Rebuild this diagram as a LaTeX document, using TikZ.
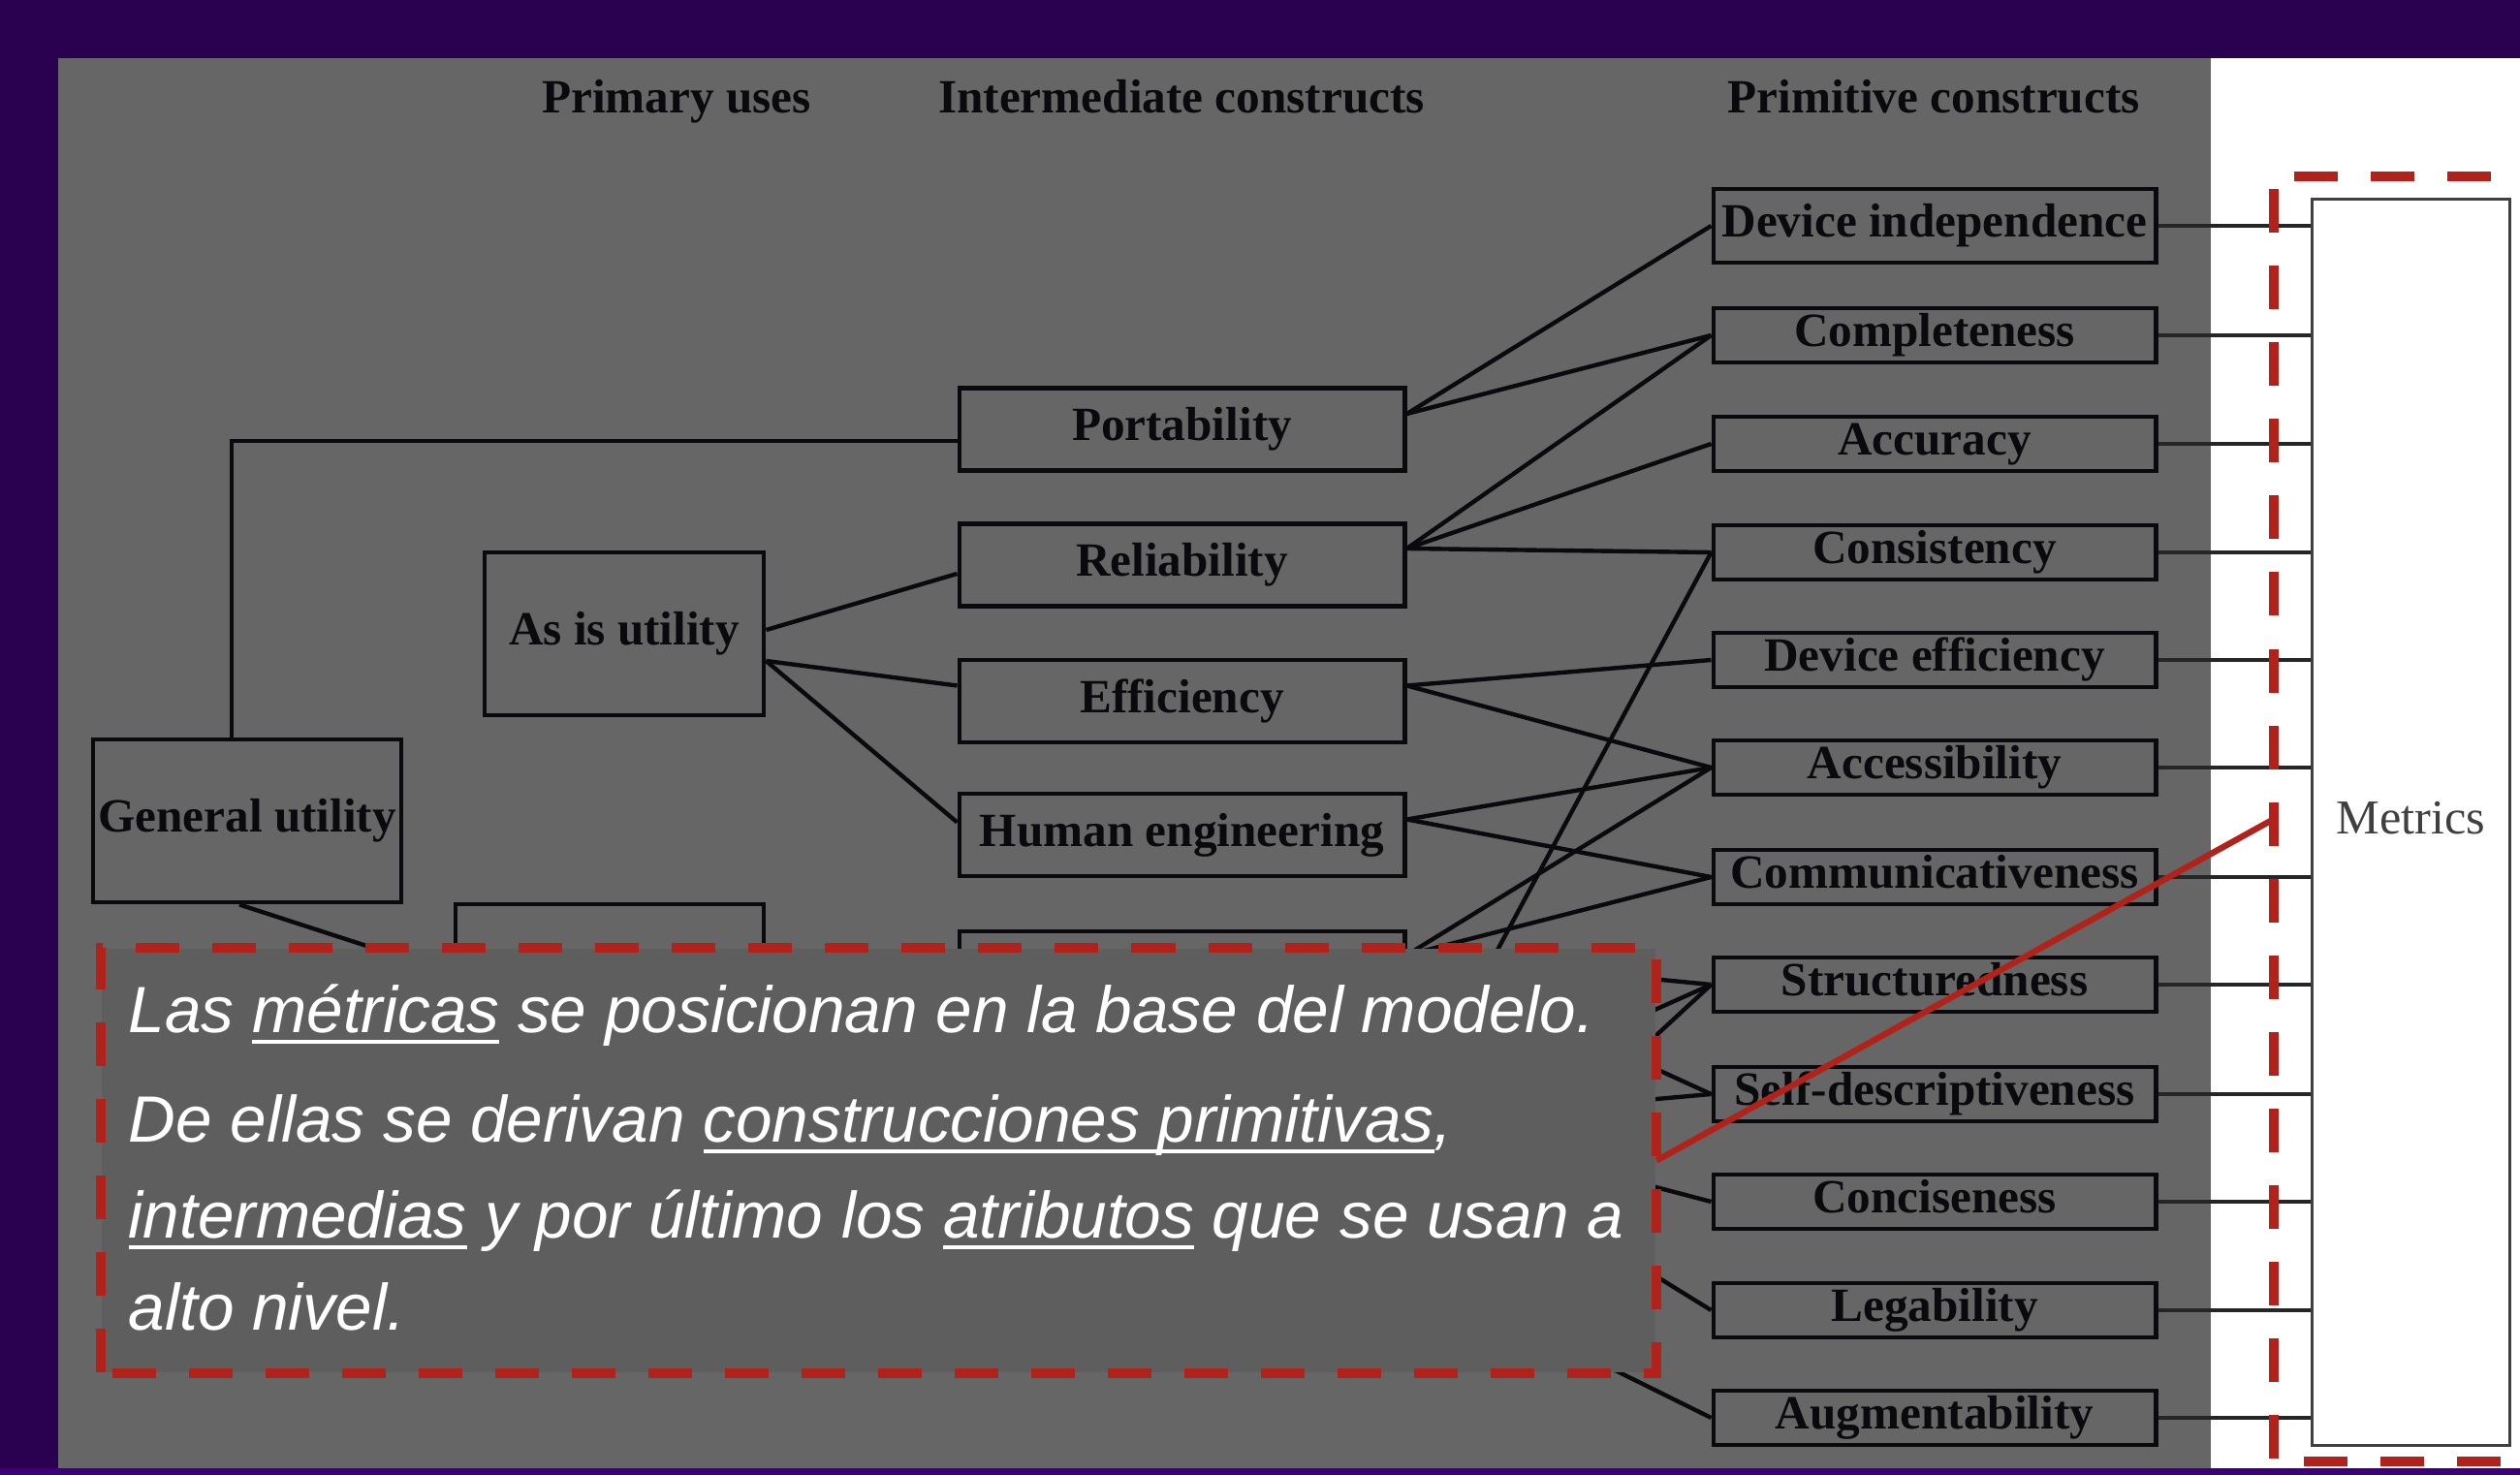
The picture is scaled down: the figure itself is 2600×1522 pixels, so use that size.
\documentclass[tikz,border=0pt]{standalone}
\usepackage{fontspec}
\setmainfont{Liberation Serif}
\newfontfamily\callfont{Liberation Sans}
\usetikzlibrary{calc}
\definecolor{bgpurple}{HTML}{2A0050}
\definecolor{bgpurplelow}{HTML}{3D007A}
\definecolor{panelgray}{HTML}{666666}
\definecolor{callgray}{HTML}{5E5E5E}
\definecolor{redc}{HTML}{B0221A}
\definecolor{inkc}{HTML}{0A0A0E}
\newcommand\myunder[1]{\setbox0\hbox{#1}\rlap{\rule[-3.3pt]{\wd0}{1.1pt}}\box0\relax}
\begin{document}
\begin{tikzpicture}[x=0.01cm, y=-0.01cm,
  box/.style={draw=inkc, line width=1.35pt, rectangle, inner sep=0pt, text=inkc,
    font=\fontsize{14}{16}\selectfont\bfseries, text height=0.78em, text depth=0.12em},
  prim/.style={box, minimum width=4.56cm, minimum height=0.56cm},
  inter/.style={box, minimum width=4.59cm, minimum height=0.85cm},
  head/.style={text=inkc, font=\fontsize{14}{16}\selectfont\bfseries, anchor=base, inner sep=0pt},
  conn/.style={draw=inkc, line width=1.25pt},
  mconn/.style={draw=black!85, line width=1.1pt},
  reddash/.style={draw=redc, line width=2.85pt, dash pattern=on 12.8pt off 9.67pt},
  calltext/.style={text=white, font=\callfont\itshape\fontsize{19.2}{23}\selectfont, anchor=base west, inner sep=0pt},
]
\useasboundingbox (0,0) rectangle (2600,1522);
\clip (0,0) rectangle (2600,1522);
% backgrounds
\fill[bgpurple] (0,0) rectangle (2600,1522);
\fill[bgpurplelow] (0,1515) rectangle (2600,1522);
\fill[panelgray] (60,60) rectangle (2281,1515);
\fill[white] (2281,60) rectangle (2600,1515);

% headers
\node[head] (h1) at (698,117) {Primary uses};
\node[head] (h2) at (1219,117) {Intermediate constructs};
\node[head] (h3) at (1995,117) {Primitive constructs};

% primitive constructs
\node[prim, minimum height=0.76cm] (dind) at (1996,233) {Device independence};
\node[prim] (comp) at (1996,346) {Completeness};
\node[prim] (accu) at (1996,458) {Accuracy};
\node[prim] (cons) at (1996,570) {Consistency};
\node[prim] (deff) at (1996,681) {Device efficiency};
\node[prim] (acce) at (1996,792) {Accessibility};
\node[prim] (comm) at (1996,905) {Communicativeness};
\node[prim] (stru) at (1996,1016) {Structuredness};
\node[prim] (self) at (1996,1129) {Self-descriptiveness};
\node[prim] (conc) at (1996,1240) {Conciseness};
\node[prim] (lega) at (1996,1352) {Legability};
\node[prim] (augm) at (1996,1463) {Augmentability};

% intermediate constructs
\node[inter] (port) at (1219.5,443) {Portability};
\node[inter] (reli) at (1219.5,583) {Reliability};
\node[inter] (effi) at (1219.5,723.5) {Efficiency};
\node[inter] (huma) at (1219.5,861.5) {Human engineering};
\node[inter] (test) at (1219.5,1003.5) {};

% primary uses
\node[box, minimum width=2.88cm, minimum height=1.68cm] (asis) at (644,654) {As is utility};
\node[box, minimum width=3.18cm, minimum height=1.68cm] (gu) at (255,847) {General utility};
\node[box, minimum width=3.18cm, minimum height=1.68cm] (maint) at (629,1017) {};

% metrics
\node[draw=black!75, line width=0.85pt, fill=white, minimum width=2.03cm, minimum height=12.85cm,
  inner sep=0pt, text=black!75, font=\fontsize{14.3}{16}\selectfont, text height=0.78em, text depth=0.12em]
  (mbox) at (2487.5,848.5) {Metrics};

% anchor coordinates
\coordinate (portE) at ($(port.east)+(0,-16)$);
\coordinate (reliE) at ($(reli.east)+(0,-17)$);
\coordinate (effiE) at ($(effi.east)+(0,-16)$);
\coordinate (humaE) at ($(huma.east)+(0,-16)$);
\coordinate (testE) at ($(test.east)+(0,-18)$);
\coordinate (undE) at (1450,1157);
\coordinate (modE) at (1450,1307);
\coordinate (asisA) at ($(asis.east)+(0,-4)$);
\coordinate (asisB) at ($(asis.east)+(0,28)$);

% connectors
\draw[conn] ($(gu.north)+(-16,0)$) |- ($(port.west)+(0,12)$);
\draw[conn] ($(gu.south)+(-8,0)$) -- ($(maint.west)+(0,-12)$);
\draw[conn] (asisA) -- ($(reli.west)+(0,9)$);
\draw[conn] (asisB) -- ($(effi.west)+(0,-16)$);
\draw[conn] (asisB) -- ($(huma.west)+(0,-13)$);

\draw[conn] (portE) -- (dind.west);
\draw[conn] (portE) -- (comp.west);
\draw[conn] (reliE) -- (comp.west);
\draw[conn] (reliE) -- (accu.west);
\draw[conn] (reliE) -- (cons.west);
\draw[conn] (effiE) -- (deff.west);
\draw[conn] (effiE) -- (acce.west);
\draw[conn] (humaE) -- (acce.west);
\draw[conn] (humaE) -- (comm.west);
\draw[conn] (testE) -- (acce.west);
\draw[conn] (testE) -- (comm.west);
\draw[conn] (testE) -- (stru.west);
\draw[conn] (testE) -- (self.west);
\draw[conn] (undE) -- (cons.west);
\draw[conn] (undE) -- (stru.west);
\draw[conn] (undE) -- (self.west);
\draw[conn] (undE) -- (conc.west);
\draw[conn] (undE) -- (lega.west);
\draw[conn] (modE) -- (stru.west);
\draw[conn] (modE) -- (augm.west);

\foreach \p in {dind,comp,accu,cons,deff,acce,comm,stru,self,conc,lega,augm}
  \draw[mconn] (\p.east) -- (\p.east -| mbox.west);

% callout
\node[fill=callgray, minimum width=16.03cm, minimum height=4.37cm, inner sep=0pt] (callout) at (906.5,1197.5) {};
\node[calltext] (t1) at (132,1065) {Las \myunder{métricas} se posicionan en la base del modelo.};
\node[calltext] (t2) at (132,1178) {De ellas se derivan \myunder{construcciones primitivas},};
\node[calltext] (t3) at (132,1277) {\myunder{intermedias} y por último los \myunder{atributos} que se usan a};
\node[calltext] (t4) at (132,1372) {alto nivel.};
\draw[reddash, dash phase=22.2pt] (callout.south west) -- (callout.north west) -- (callout.north east) -- (callout.south east) -- cycle;

% frame around metrics
\node[minimum width=2.93cm, minimum height=13.24cm, inner sep=0pt] (mframe) at (2493.5,845) {};
\draw[reddash, dash phase=2.28pt] (mframe.north east) -- (mframe.north west) -- (mframe.south west) -- (mframe.south east);

\draw[draw=redc, line width=1.8pt] (callout.east) -- (mframe.west);
\end{tikzpicture}
\end{document}
